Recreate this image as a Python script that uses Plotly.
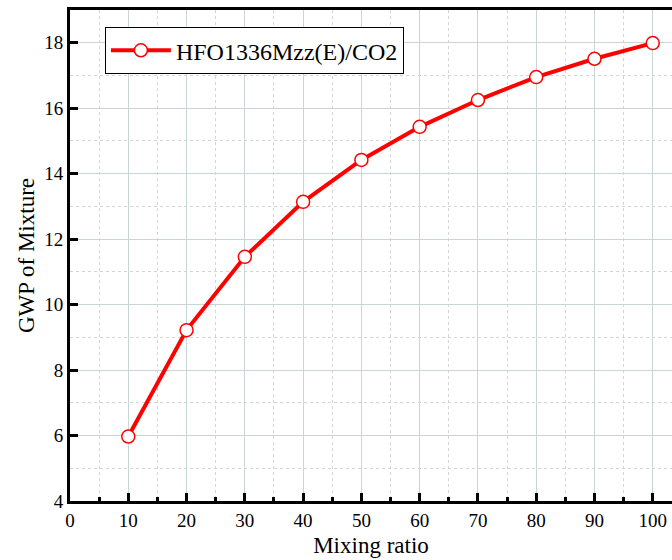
import plotly.graph_objects as go

mixing_ratio = [10, 20, 30, 40, 50, 60, 70, 80, 90, 100]
gwp = [5.97, 9.22, 11.46, 13.14, 14.42, 15.43, 16.25, 16.95, 17.51, 17.99]
series_name = "HFO1336Mzz(E)/CO2"

font_family = "Liberation Serif, Times New Roman, serif"

fig = go.Figure()
fig.add_trace(go.Scatter(
    x=mixing_ratio, y=gwp, mode="lines+markers", name=series_name,
    line=dict(color="#ff0000", width=4),
    marker=dict(symbol="circle", size=13, color="white",
                line=dict(color="#ff0000", width=1.5)),
))

fig.update_layout(
    width=672, height=560,
    margin=dict(l=70, r=0, t=10, b=59),
    paper_bgcolor="white", plot_bgcolor="white",
    font=dict(family=font_family, color="black"),
    showlegend=True,
    legend=dict(x=0.058, y=0.965, xanchor="left", yanchor="top",
                bordercolor="black", borderwidth=1, bgcolor="white",
                font=dict(size=24, family=font_family),
                itemwidth=60),
    xaxis=dict(
        range=[0, 103.3], tickvals=[0, 10, 20, 30, 40, 50, 60, 70, 80, 90, 100],
        showline=True, linecolor="black", linewidth=3, mirror=True,
        ticks="inside", ticklen=8, tickwidth=3, tickcolor="black",
        showgrid=True, gridcolor="#c9d6d6", gridwidth=1,
        zeroline=False,
        minor=dict(dtick=5, tick0=0, ticks="inside", ticklen=4, tickwidth=3,
                   tickcolor="black", showgrid=True, gridcolor="#d4d4d4",
                   griddash="dot", gridwidth=1),
        tickfont=dict(size=19, family=font_family),
        title=dict(text="Mixing ratio", font=dict(size=23, family=font_family), standoff=8),
    ),
    yaxis=dict(
        range=[4, 19], tickvals=[4, 6, 8, 10, 12, 14, 16, 18],
        showline=True, linecolor="black", linewidth=3,
        ticks="inside", ticklen=8, tickwidth=3, tickcolor="black",
        showgrid=True, gridcolor="#c9d6d6", gridwidth=1,
        zeroline=False,
        minor=dict(dtick=1, tick0=0, ticks="", showgrid=True,
                   gridcolor="#d4d4d4", griddash="dot", gridwidth=1),
        tickfont=dict(size=19, family=font_family),
        title=dict(text="GWP of Mixture", font=dict(size=23, family=font_family), standoff=4),
    ),
)

fig.write_html("out.html")
